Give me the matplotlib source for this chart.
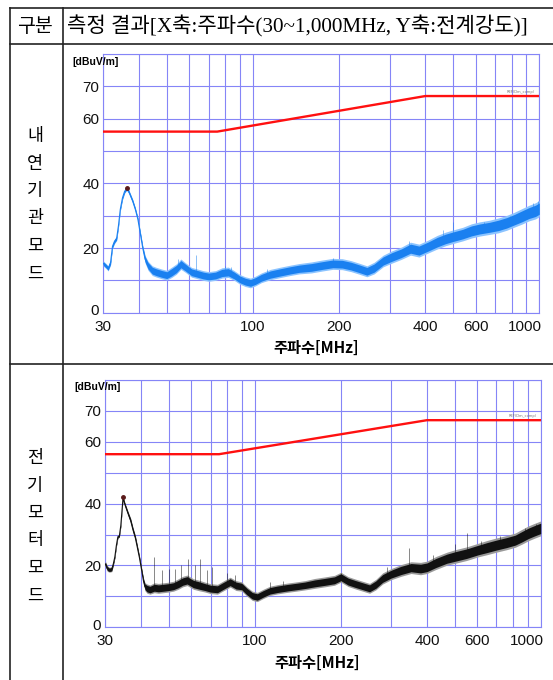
import matplotlib
matplotlib.use("Agg")
import matplotlib.pyplot as plt
import matplotlib.transforms as mtransforms
import numpy as np
from matplotlib.lines import Line2D

# 측정 데이터
# 내연기관모드
freq_ice = [30, 30.6, 31.2, 31.8, 32.3, 32.8, 33.4, 33.9, 34.4, 35.0, 35.6, 36.2, 36.8, 37.4,
            38.0, 38.8, 39.6, 40.4, 41.2, 42.0, 43.0, 44.5, 46, 48, 50, 52, 54, 56, 58, 61,
            64, 67, 70, 74, 78, 82, 86, 90, 94, 98, 102, 107, 115, 125, 135, 145, 160, 175,
            190, 205, 220, 235, 250, 265, 285, 305, 330, 355, 380, 410, 440, 470, 500, 540,
            580, 620, 670, 720, 770, 820, 870, 920, 970, 1000]
level_ice = [15.2, 14.5, 13.7, 15.5, 20.5, 22.0, 23.0, 27.0, 32.0, 35.5, 37.5, 38.4, 37.5, 36.0,
             34.5, 32.0, 29.0, 24.5, 20.0, 16.5, 14.5, 13.0, 12.5, 12.0, 11.6, 12.5, 13.5, 15.0, 14.0, 12.5,
             12.0, 11.5, 11.2, 11.5, 12.3, 12.5, 11.5, 10.3, 9.6, 9.2, 9.8, 10.8, 11.8, 12.5, 13.1, 13.6, 14.0, 14.6,
             15.1, 15.0, 14.4, 13.6, 12.8, 13.8, 16.0, 17.2, 18.4, 19.8, 19.2, 20.5, 21.8, 22.8, 23.5, 24.3,
             25.3, 25.9, 26.4, 27.0, 27.8, 28.8, 29.8, 30.8, 31.5, 32.2]
noise_ice = [0.8, 0.8, 0.8, 0.8, 0.7, 0.7, 0.7, 0.6, 0.6, 0.6, 0.6, 0.6, 0.6, 0.6,
             0.6, 0.6, 0.6, 0.7, 0.8, 1.2, 1.4, 1.5, 1.5, 1.5, 1.5, 1.6, 1.6, 1.6, 1.5, 1.5,
             1.5, 1.5, 1.5, 1.5, 1.6, 1.6, 1.5, 1.5, 1.5, 1.5, 1.5, 1.5, 1.6, 1.6, 1.6, 1.6, 1.7, 1.7,
             1.7, 1.7, 1.7, 1.7, 1.7, 1.8, 1.8, 1.9, 1.9, 2.0, 2.0, 2.0, 2.1, 2.1, 2.1, 2.1,
             2.2, 2.2, 2.2, 2.3, 2.3, 2.3, 2.4, 2.4, 2.5, 2.5]
spike_f_ice = [54.5, 63, 80, 84, 112, 190, 352, 460, 500, 640, 790, 950, 990]
spike_v_ice = [16.5, 17.8, 14.5, 14.0, 13.5, 17.0, 22.2, 25.5, 28.0, 28.0, 30.0, 34.0, 34.5]
peak_ice = (36.2, 38.5)

# 전기모터모드
freq_ev = [30, 30.5, 31, 31.6, 32.0, 32.4, 32.8, 33.2, 33.6, 34.0, 34.6, 35.2, 36.0, 36.8, 37.5,
           38.2, 38.8, 39.5, 40.2, 40.8, 41.3, 42, 43, 44.5, 46, 48, 50, 52, 54, 56, 58, 61,
           64, 67, 70, 74, 78, 82, 86, 90, 94, 98, 102, 107, 113, 120, 130, 140, 150, 162,
           176, 190, 200, 212, 225, 240, 252, 265, 280, 300, 325, 352, 380, 400, 430, 470,
           502, 550, 605, 650, 700, 760, 815, 860, 906, 950, 1000]
level_ev = [20.5, 19.0, 18.6, 18.8, 20.5, 22.8, 26.5, 29.3, 29.6, 33.0, 41.8, 39.5, 36.9, 34.5, 31.5,
            29.0, 26.0, 22.5, 18.5, 15.0, 13.1, 12.5, 12.2, 12.8, 12.6, 12.8, 13.0, 13.3, 14.0, 14.8, 15.2, 14.0,
            13.5, 13.0, 12.5, 12.3, 13.5, 14.6, 13.5, 13.2, 11.5, 10.2, 9.8, 10.8, 11.8, 12.3, 12.8, 13.2, 13.6, 14.2,
            14.7, 15.2, 16.2, 14.8, 14.0, 13.2, 12.6, 13.8, 15.8, 17.2, 18.4, 19.3, 19.0, 19.4, 20.8, 22.2,
            22.9, 23.8, 25.0, 25.8, 26.6, 27.4, 28.2, 29.3, 30.4, 31.2, 32.0]
noise_ev = [0.9, 0.9, 0.8, 0.8, 0.6, 0.5, 0.5, 0.5, 0.5, 0.5, 0.5, 0.6, 0.7, 0.8, 0.8,
            0.8, 0.8, 0.7, 0.7, 1.0, 1.3, 1.5, 1.5, 1.6, 1.6, 1.6, 1.6, 1.6, 1.7, 1.7, 1.7, 1.7,
            1.7, 1.6, 1.6, 1.6, 1.6, 1.6, 1.6, 1.5, 1.5, 1.5, 1.5, 1.5, 1.5, 1.5, 1.5, 1.5, 1.5, 1.6,
            1.6, 1.6, 1.6, 1.6, 1.6, 1.6, 1.6, 1.7, 1.8, 1.8, 1.9, 1.9, 2.0, 2.0, 2.1, 2.1,
            2.2, 2.2, 2.2, 2.3, 2.3, 2.3, 2.3, 2.4, 2.4, 2.4, 2.4]
spike_f_ev = [44.5, 47.5, 50, 52.4, 55, 58.5, 61.6, 64.5, 68, 71, 80, 85, 113, 125,
              200, 290, 345, 420, 500, 551, 620, 720, 880, 960]
spike_v_ev = [22.8, 18.5, 19.0, 19.0, 20.0, 22.0, 20.0, 22.2, 18.5, 19.5, 17.5, 17.0, 14.5, 15.0,
              17.5, 19.5, 25.6, 23.5, 27.0, 30.5, 28.0, 29.5, 32.0, 33.5]
peak_ev = (34.6, 42.0)

# 허용기준 (dBuV/m)
limit_f = [30, 75, 400, 1000]
limit_v = [56, 56, 67, 67]

grid_f = [30, 40, 50, 60, 70, 80, 90, 100, 200, 300, 400, 500, 600, 700, 800, 900, 1000]
label_f = [30, 100, 200, 400, 600, 1000]
grid_db = [0, 10, 20, 30, 40, 50, 60, 70, 80]
label_db = [0, 20, 40, 60, 70]

W, H = 553, 680
GRID = "#8585f7"
TICKFONT = ["Liberation Sans", "DejaVu Sans"]
KR = ["Noto Sans CJK KR", "DejaVu Sans"]

fig = plt.figure(figsize=(W / 100, H / 100), dpi=100)
fig.patch.set_facecolor("white")

# 표 (픽셀 좌표)
bg = fig.add_axes([0, 0, 1, 1])
bg.set_xlim(0, W)
bg.set_ylim(H, 0)
bg.axis("off")
for (x0, y0, x1, y1) in [(10, 7.5, W, 7.5), (10, 43.5, W, 43.5), (10, 364, W, 364),
                         (10, 7.5, 10, H), (63, 7.5, 63, H)]:
    bg.add_line(Line2D([x0, x1], [y0, y1], color="#222222", lw=1.2))

bg.text(35, 26, "구분", fontsize=14, family=KR, ha="center", va="center", fontweight="light")
bg.text(67, 26, "측정 결과[X축:주파수(30~1,000MHz, Y축:전계강도)]", fontsize=15.2,
        family=["Liberation Serif", "Noto Sans CJK KR"], ha="left", va="center", fontweight="light")

for chars, y0 in [("내연기관모드", 136), ("전기모터모드", 458)]:
    for i, ch in enumerate(chars):
        bg.text(35, y0 + i * 27.5, ch, fontsize=12.5, family=KR, ha="center", va="center",
                fontweight="light")


def draw_chart(rect, freq, level, noise, spike_f, spike_v, peak, core, light, xlab_y):
    ax = fig.add_axes(rect)
    f = np.array(freq)
    lv = np.array(level)
    nz = np.array(noise)
    ax.fill_between(f, lv - nz, lv + nz, color=light, lw=0, zorder=3)
    ax.fill_between(f, lv - nz * 0.7, lv + nz * 0.7, color=core, lw=0, zorder=4)
    ax.plot(f, lv, color=core, lw=0.8, zorder=4)
    base = np.interp(np.log10(spike_f), np.log10(f), lv)
    ax.vlines(spike_f, base, spike_v, color=core, lw=0.5, alpha=0.7, zorder=4)
    ax.plot(limit_f, limit_v, color="#ff1010", lw=1.7, zorder=5)
    ax.plot(*peak, "o", ms=2.5, color="#5a1a1a", zorder=6)

    ax.set_xscale("log")
    ax.set_xlim(30, 1000)
    ax.set_ylim(0, 80)
    ax.set_xticks(grid_f)
    ax.set_xticklabels([str(v) if v in label_f else "" for v in grid_f])
    ax.xaxis.set_minor_locator(plt.NullLocator())
    ax.set_yticks(grid_db)
    ax.set_yticklabels([str(v) if v in label_db else "" for v in grid_db])
    ax.grid(True, color=GRID, lw=0.8, zorder=1)
    ax.tick_params(length=0, labelsize=11, labelcolor="#111111")
    ax.tick_params(axis="x", pad=5)
    ax.tick_params(axis="y", pad=3)
    for lab in ax.get_xticklabels() + ax.get_yticklabels():
        lab.set_family(TICKFONT)
    # 1000 라벨은 축 안쪽으로, 0 라벨은 조금 위로
    xl = ax.get_xticklabels()[-1]
    xl.set_ha("right")
    xl.set_transform(xl.get_transform() + mtransforms.ScaledTranslation(3 / 100, 0, fig.dpi_scale_trans))
    yl = ax.get_yticklabels()[0]
    yl.set_transform(yl.get_transform() + mtransforms.ScaledTranslation(0, 3 / 100, fig.dpi_scale_trans))
    for s in ax.spines.values():
        s.set_color(GRID)
        s.set_linewidth(0.8)
    ax.text(0.487, xlab_y, "주파수[MHz]", transform=ax.transAxes, fontsize=11, family=KR,
            fontweight="bold", ha="center", va="center")
    ax.text(-0.07, 0.99, "[dBuV/m]", transform=ax.transAxes, fontsize=7.5, family=TICKFONT,
            fontweight="bold", ha="left", va="top")
    ax.text(0.99, 67.6, "REF(Dm_comp)", transform=ax.get_yaxis_transform(), fontsize=2.6,
            color="#777777", ha="right", va="bottom")
    return ax


draw_chart([103.3 / W, 1 - 312.7 / H, 436 / W, 258.7 / H],
           freq_ice, level_ice, noise_ice, spike_f_ice, spike_v_ice, peak_ice,
           "#1a80f0", "#8cc4ff", -0.135)
draw_chart([105.3 / W, 1 - 627.3 / H, 435.4 / W, 247.3 / H],
           freq_ev, level_ev, noise_ev, spike_f_ev, spike_v_ev, peak_ev,
           "#111111", "#9a9a9a", -0.145)

fig.savefig("out.png", dpi=100)
